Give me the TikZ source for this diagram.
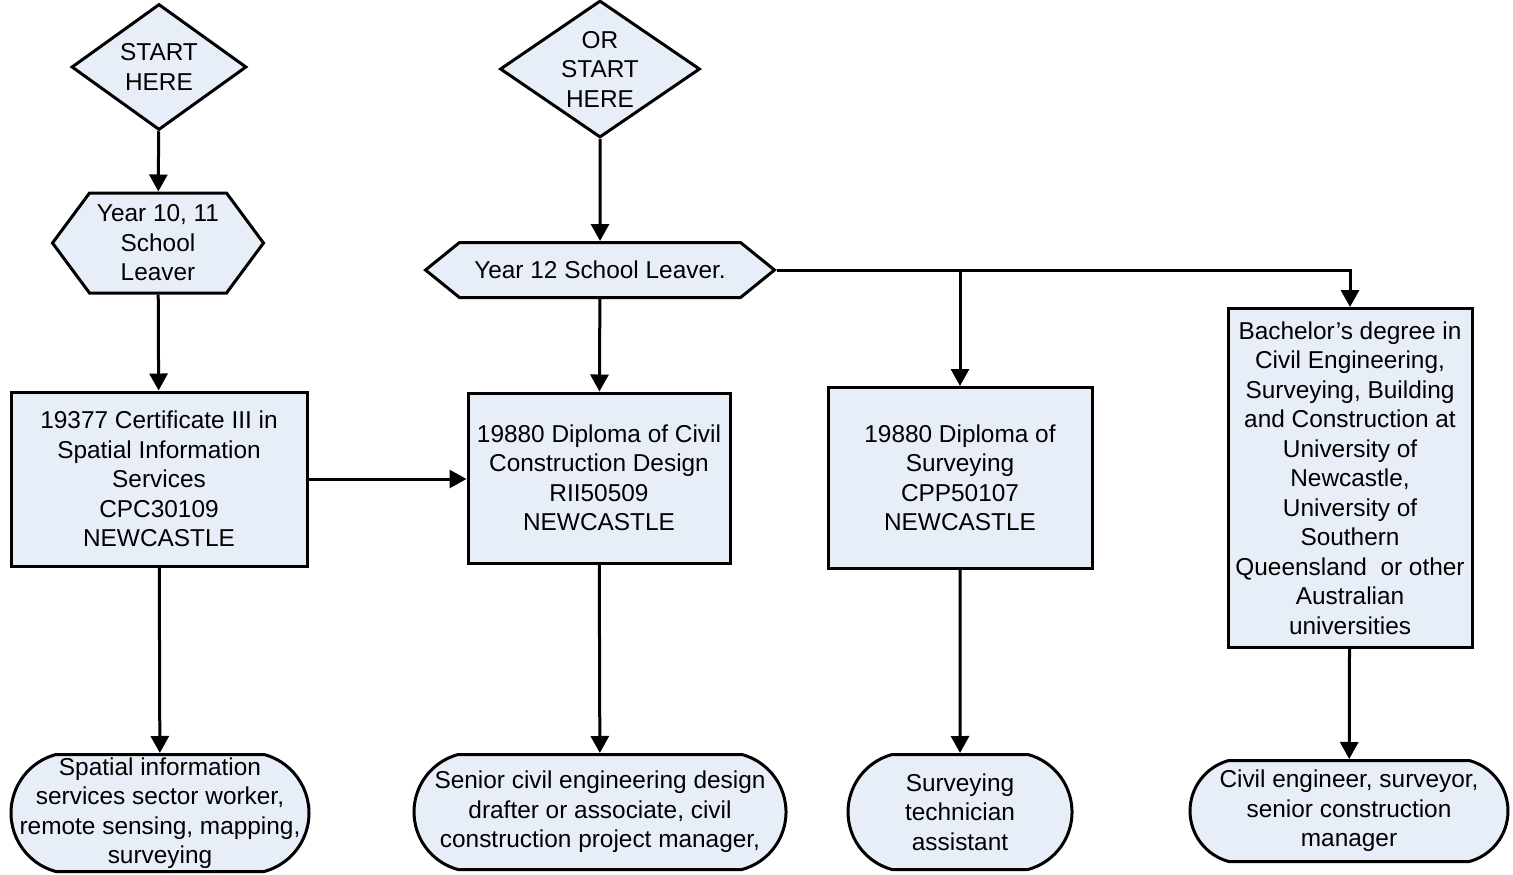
\documentclass[tikz,border=0pt]{standalone}
\usepackage{fontspec}
\setmainfont{Liberation Sans}
\usetikzlibrary{arrows.meta,shapes.geometric,shapes.symbols,shapes.misc}
\definecolor{boxfill}{RGB}{232,238,247}
\tikzset{
  base/.style={draw, line width=1.5pt, fill=boxfill, inner sep=0pt, align=center,
    font=\fontsize{12.2}{14.75}\selectfont},
  startbox/.style={base, diamond, aspect=1.4},
  leaver/.style={base, signal, signal to=west and east},
  course/.style={base, rectangle},
  job/.style={base, rounded rectangle, rounded rectangle arc length=150},
  link/.style={line width=1.5pt, -{Triangle[width=9pt,length=8.5pt]}}
}
\begin{document}
\begin{tikzpicture}[x=0.5pt,y=-0.5pt]
\useasboundingbox (0,0) rectangle (1513,874);
% start points
\node[startbox, minimum width=87.5pt, minimum height=63pt] (start1) at (159,67) {START\\HERE};
\node[startbox, minimum width=100pt, minimum height=68.5pt] (start2) at (600,69) {OR\\START\\HERE};
% school leavers
\node[leaver, signal pointer angle=107, minimum width=105.5pt, minimum height=50pt] (leave1) at (158,243) {Year 10, 11\\School\\Leaver};
\node[leaver, signal pointer angle=78, minimum width=174.5pt, minimum height=27.5pt] (leave2) at (600,270) {Year 12 School Leaver.};
% courses
\node[course, minimum width=148pt, minimum height=87pt] (cert) at (159,479) {19377 Certificate III in\\Spatial Information\\Services\\CPC30109\\NEWCASTLE};
\node[course, minimum width=131pt, minimum height=85pt] (dipciv) at (599,478) {19880 Diploma of Civil\\Construction Design\\RII50509\\NEWCASTLE};
\node[course, minimum width=132pt, minimum height=90.5pt] (dipsurv) at (960,478) {19880 Diploma of\\Surveying\\CPP50107\\NEWCASTLE};
\node[course, minimum width=122pt, minimum height=169.5pt] (bach) at (1350,478) {Bachelor’s degree in\\Civil Engineering,\\Surveying, Building\\and Construction at\\University of\\Newcastle,\\University of\\Southern\\Queensland\ \ or other\\Australian\\universities};
% jobs
\node[job, inner xsep=-14pt, minimum width=148pt, minimum height=58.5pt] (job1) at (160,813) {Spatial information\\services sector worker,\\remote sensing, mapping,\\surveying};
\node[job, minimum width=186pt, minimum height=57.5pt] (job2) at (600,812) {Senior civil engineering design\\drafter or associate, civil\\construction project manager,};
\node[job, minimum width=112pt, minimum height=57.5pt] (job3) at (960,812) {Surveying\\technician\\assistant};
\node[job, minimum width=159pt, minimum height=50.5pt] (job4) at (1349,811) {Civil engineer, surveyor,\\senior construction\\manager};
% connectors
\draw[link] (start1) -- (leave1);
\draw[link] (leave1) -- (cert);
\draw[link] (cert) -- (job1);
\draw[link] (cert.east) -- (cert.east -| dipciv.west);
\draw[link] (start2) -- (leave2);
\draw[link] (leave2) -- (dipciv);
\draw[link] (dipciv) -- (job2);
\draw[link] (leave2.east) -| (dipsurv.north);
\draw[link] (leave2.east) -| (bach.north);
\draw[link] (dipsurv) -- (job3);
\draw[link] (bach) -- (job4);
\end{tikzpicture}
\end{document}
